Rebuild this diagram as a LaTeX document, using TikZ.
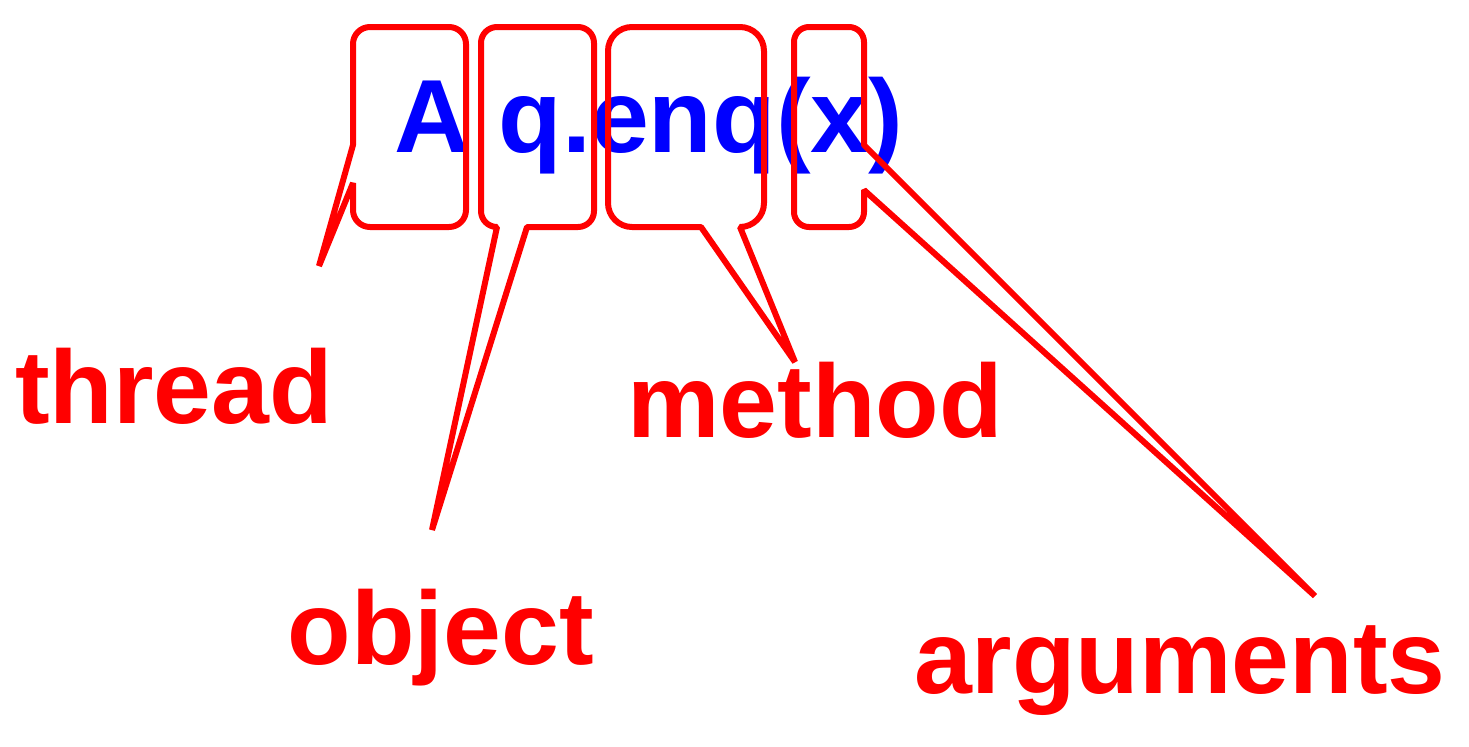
\documentclass[tikz,border=0pt]{standalone}
\usepackage{fontspec}
\setmainfont{Liberation Sans}
\definecolor{label-red}{rgb}{1, 0, 0}
\definecolor{code-blue}{rgb}{0, 0, 1}

\begin{document}
\begin{tikzpicture}[x=0.5pt, y=-0.5pt,
		word/.style={inner sep=0pt, anchor=base, font=\fontsize{52}{60}\selectfont\bfseries},
		callout/.style={draw=label-red, line width=3pt, line join=bevel}]
	\useasboundingbox (0,0) rectangle (1469,746);

	\node[word, text=code-blue] (call) at (649,152) {A q.enq(x)};

	\node[word, text=label-red] (thread) at (174,423) {thread};
	\node[word, text=label-red] (object) at (441,664) {object};
	\node[word, text=label-red] (method) at (815,437) {method};
	\node[word, text=label-red] (arguments) at (1180,693) {arguments};

	\coordinate (tipthread) at (319,266);
	\coordinate (tipobject) at (432,530);
	\coordinate (tipmethod) at (795,362);
	\coordinate (tiparguments) at (1315,596);

	% thread: tail on the left side
	\draw[callout] (tipthread) -- (353,183) -- (353,210)
		arc[start angle=180, end angle=270, radius=8.5pt] -- (449,227)
		arc[start angle=270, end angle=360, radius=8.5pt] -- (466,44)
		arc[start angle=0, end angle=90, radius=8.5pt] -- (370,27)
		arc[start angle=90, end angle=180, radius=8.5pt] -- (353,145) -- cycle;

	% object: tail at the bottom
	\draw[callout] (tipobject) -- (527,227) -- (578,227)
		arc[start angle=270, end angle=360, radius=8pt] -- (594,43)
		arc[start angle=0, end angle=90, radius=8pt] -- (497,27)
		arc[start angle=90, end angle=180, radius=8pt] -- (481,211)
		arc[start angle=180, end angle=270, radius=8pt] -- cycle;

	% method
	\draw[callout] (tipmethod) -- (701,227) -- (632,227)
		arc[start angle=270, end angle=180, radius=12pt] -- (608,51)
		arc[start angle=180, end angle=90, radius=12pt] -- (740,27)
		arc[start angle=90, end angle=0, radius=12pt] -- (764,203)
		arc[start angle=0, end angle=-90, radius=12pt] -- cycle;

	% arguments: tail on the right side
	\draw[callout] (tiparguments) -- (864,190) -- (864,212)
		arc[start angle=0, end angle=-90, radius=7.5pt] -- (809,227)
		arc[start angle=270, end angle=180, radius=7.5pt] -- (794,42)
		arc[start angle=180, end angle=90, radius=7.5pt] -- (849,27)
		arc[start angle=90, end angle=0, radius=7.5pt] -- (864,145) -- cycle;
\end{tikzpicture}
\end{document}
